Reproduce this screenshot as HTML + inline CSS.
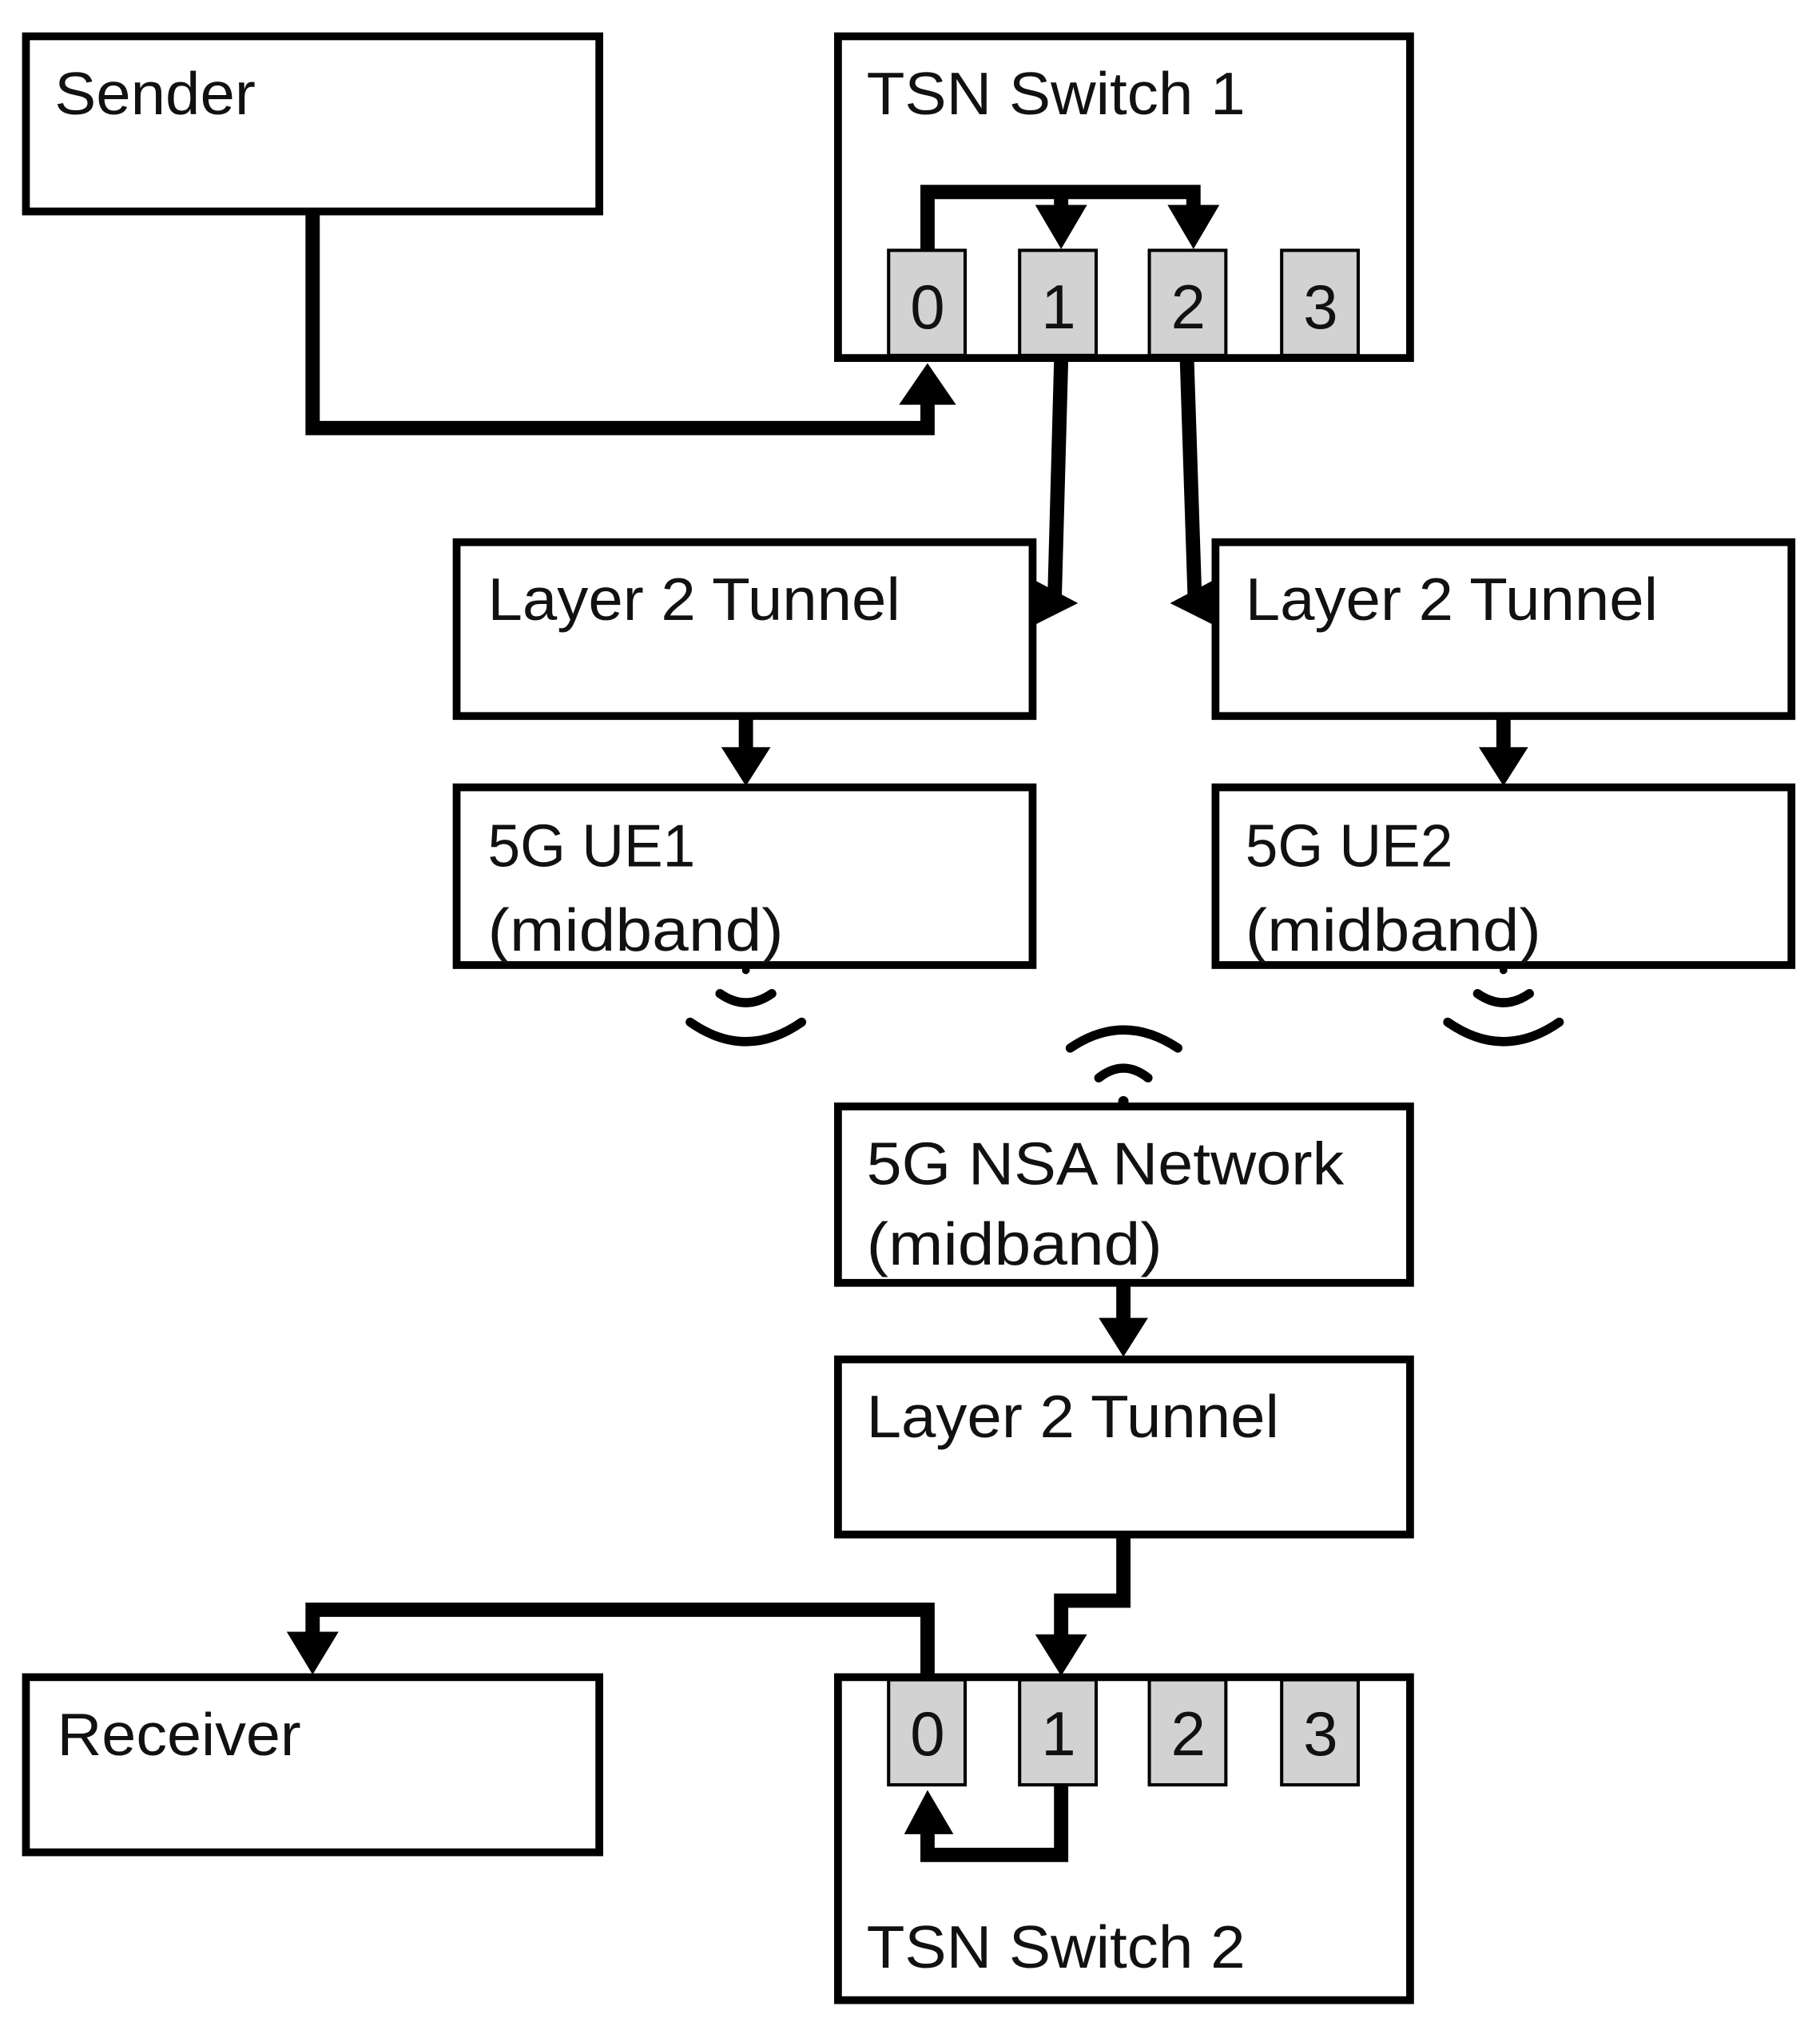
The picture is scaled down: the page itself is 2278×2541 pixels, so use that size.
<!DOCTYPE html>
<html><head><meta charset="utf-8"><style>html,body{margin:0;padding:0;background:#fff}svg{display:block}</style></head>
<body>
<svg width="2278" height="2541" viewBox="0 0 1403 1565" preserveAspectRatio="none" xmlns="http://www.w3.org/2000/svg" font-family="Liberation Sans, sans-serif" font-size="46">
<g fill="none" stroke="#000" stroke-width="6">
<rect x="20" y="28" width="442" height="135"/>
<rect x="646" y="28" width="441" height="248"/>
<rect x="352" y="418" width="444" height="134"/>
<rect x="937" y="418" width="444" height="134"/>
<rect x="352" y="607" width="444" height="137"/>
<rect x="937" y="607" width="444" height="137"/>
<rect x="646" y="853" width="441" height="136"/>
<rect x="646" y="1048" width="441" height="135"/>
<rect x="20" y="1293" width="442" height="135"/>
<rect x="646" y="1293" width="441" height="249"/>
</g>
<g fill="#d3d2d2" stroke="#000" stroke-width="2.5">
<rect x="685" y="193" width="59" height="81"/><rect x="786" y="193" width="59" height="81"/><rect x="886" y="193" width="59" height="81"/><rect x="988" y="193" width="59" height="81"/>
<rect x="685" y="1295" width="59" height="81"/><rect x="786" y="1295" width="59" height="81"/><rect x="886" y="1295" width="59" height="81"/><rect x="988" y="1295" width="59" height="81"/>
</g>
<g font-size="48" text-anchor="middle" fill="#111">
<text x="715" y="253">0</text><text x="816" y="253">1</text><text x="916" y="253">2</text><text x="1018" y="253">3</text>
<text x="715" y="1353">0</text><text x="816" y="1353">1</text><text x="916" y="1353">2</text><text x="1018" y="1353">3</text>
</g>
<g fill="#111" lengthAdjust="spacingAndGlyphs">
<text x="42" y="88" textLength="155" lengthAdjust="spacingAndGlyphs">Sender</text>
<text x="668" y="88" textLength="292" lengthAdjust="spacingAndGlyphs">TSN Switch  1</text>
<text x="376" y="478" textLength="318" lengthAdjust="spacingAndGlyphs">Layer 2 Tunnel</text>
<text x="960" y="478" textLength="318" lengthAdjust="spacingAndGlyphs">Layer 2 Tunnel</text>
<text x="376" y="668" textLength="160" lengthAdjust="spacingAndGlyphs">5G UE1</text>
<text x="376" y="733" textLength="228" lengthAdjust="spacingAndGlyphs">(midband)</text>
<text x="960" y="668" textLength="160" lengthAdjust="spacingAndGlyphs">5G UE2</text>
<text x="960" y="733" textLength="228" lengthAdjust="spacingAndGlyphs">(midband)</text>
<text x="668" y="913" textLength="368" lengthAdjust="spacingAndGlyphs">5G NSA Network</text>
<text x="668" y="975" textLength="228" lengthAdjust="spacingAndGlyphs">(midband)</text>
<text x="668" y="1108" textLength="318" lengthAdjust="spacingAndGlyphs">Layer 2 Tunnel</text>
<text x="44" y="1353" textLength="188" lengthAdjust="spacingAndGlyphs">Receiver</text>
<text x="668" y="1517" textLength="292" lengthAdjust="spacingAndGlyphs">TSN Switch  2</text>
</g>
<g fill="none" stroke="#000" stroke-width="11" stroke-linejoin="miter">
<polyline points="715,193 715,148 920,148 920,160"/>
<line x1="818" y1="148" x2="818" y2="160"/>
<polyline points="241,163 241,330 715,330 715,310"/>
<line x1="818" y1="278" x2="813" y2="460"/>
<line x1="915" y1="278" x2="921" y2="460"/>
<line x1="575" y1="552" x2="575" y2="578"/>
<line x1="1159" y1="552" x2="1159" y2="578"/>
<line x1="866" y1="989" x2="866" y2="1018"/>
<polyline points="866,1183 866,1234 818,1234 818,1262"/>
<polyline points="715,1293 715,1241 241,1241 241,1260"/>
<polyline points="818,1376 818,1430 715,1430 715,1412"/>
</g>
<g fill="#000">
<polygon points="798,158 838,158 818,192"/>
<polygon points="900,158 940,158 920,192"/>
<polygon points="693,312 737,312 715,280"/>
<polygon points="797,447 831,465 797,482"/>
<polygon points="936,447 902,465 936,482"/>
<polygon points="556,576 594,576 575,606"/>
<polygon points="1140,576 1178,576 1159,606"/>
<polygon points="847,1016 885,1016 866,1046"/>
<polygon points="798,1260 838,1260 818,1292"/>
<polygon points="221,1258 261,1258 241,1291"/>
<polygon points="697,1414 735,1414 715,1380"/>
</g>
<g fill="none" stroke="#000" stroke-width="7" stroke-linecap="round">
<path d="M555,766 Q575,780 595,766"/>
<path d="M532,788 Q575,818 618,788"/>
<path d="M1139,766 Q1159,780 1179,766"/>
<path d="M1116,788 Q1159,818 1202,788"/>
<path d="M847,831 Q866,816 885,831"/>
<path d="M825,808 Q866,780 908,808"/>
</g>
<circle cx="866" cy="849" r="4" fill="#000"/>
<circle cx="575" cy="748" r="3" fill="#000"/>
<circle cx="1159" cy="748" r="3" fill="#000"/>
</svg>
</body></html>
